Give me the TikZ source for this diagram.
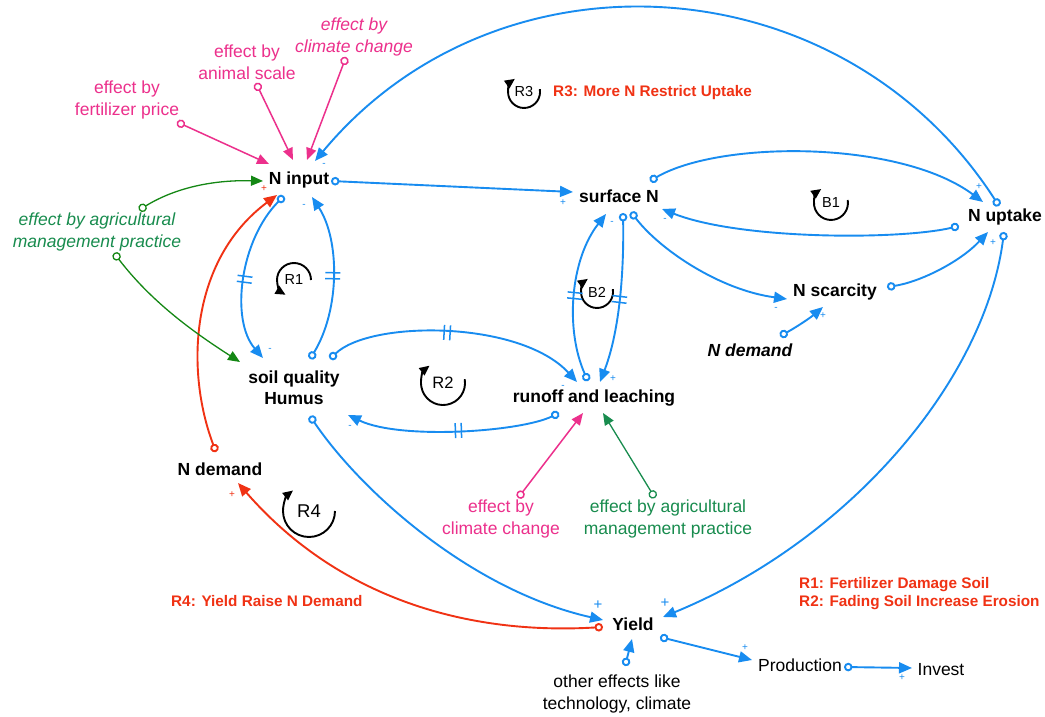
\documentclass[tikz,border=0pt]{standalone}
\usepackage{fontspec}
\setmainfont{Liberation Sans}
\usetikzlibrary{arrows.meta,calc}
\definecolor{cblue}{RGB}{24,140,240}
\definecolor{cpink}{RGB}{236,48,140}
\definecolor{cgreenT}{RGB}{24,140,78}
\definecolor{cgreenL}{RGB}{20,135,20}
\definecolor{cred}{RGB}{240,50,20}
\tikzset{
  var/.style={font=\fontsize{17.5}{21}\selectfont\bfseries, inner sep=0pt, align=center},
  txt/.style={font=\fontsize{17.5}{21.5}\selectfont, inner sep=0pt, align=center},
  itxt/.style={font=\fontsize{17.5}{21.5}\selectfont\itshape, inner sep=0pt, align=center},
  lbl/.style={font=\fontsize{15.3}{18}\selectfont\bfseries, text=cred, inner sep=0pt, align=left, anchor=west},
  sgn/.style={font=\fontsize{10}{10}\selectfont, inner sep=0pt, text=cblue},
  bsgn/.style={font=\fontsize{15}{15}\selectfont, inner sep=0pt, text=cblue},
  lname/.style={font=\fontsize{14.5}{14.5}\selectfont, inner sep=0pt},
  link/.style={line width=1.9pt, draw=cblue, {Circle[length=8.5pt,width=8.5pt,fill=white]}-{Triangle[length=13pt,width=11pt]}},
  rlink/.style={link, draw=cred},
  plink/.style={line width=1.5pt, draw=cpink, {Circle[length=8.5pt,width=8.5pt,fill=white]}-{Triangle[length=12pt,width=10pt]}},
  glink/.style={line width=1.3pt, draw=cgreenL, {Circle[length=8.5pt,width=8.5pt,fill=white]}-{Triangle[length=12pt,width=10pt]}},
  glinkb/.style={glink, draw=cgreenT},
  loopar/.style={line width=1.9pt, draw=black, -{Triangle[length=10pt,width=9pt]}},
  hatchpair/.pic={\draw[arrows=-, draw=cblue, line width=1.5pt] (-3,-7.5)--(-3,7.5) (3,-7.5)--(3,7.5);}
}
\begin{document}
\begin{tikzpicture}[x=1pt,y=-1pt]
\path[use as bounding box, fill=white] (0,0) rectangle (1045,717);

% variables
\node[var] (ninput) at (299,180) {N input};
\node[var] (surfN) at (619,196) {surface N};
\node[var] (nuptake) at (1005,217) {N uptake};
\node[var] (nscar) at (835,292) {N scarcity};
\node[var, font=\fontsize{17.5}{21}\selectfont\bfseries\itshape] (ndemtwo) at (750,350) {N demand};
\node[var] (soil) at (294,388) {soil quality\\Humus};
\node[var] (runoff) at (594,398) {runoff and leaching};
\node[var] (ndem) at (220,469) {N demand};
\node[var] (yield) at (633,624) {Yield};
\node[txt] (prod) at (800,665) {Production};
\node[txt] (invest) at (941,670) {Invest};
\node[txt] (other) at (617,694) {other effects like\\technology, climate};
\node[itxt, text=cpink] (cc1) at (354,37) {effect by\\climate change};
\node[txt, text=cpink] (animal) at (247,62) {effect by\\animal scale};
\node[txt, text=cpink] (fert) at (127,100) {effect by\\fertilizer price};
\node[itxt, text=cgreenT] (agri1) at (97,232) {effect by agricultural\\management practice};
\node[txt, text=cpink] (cc2) at (501,519) {effect by\\climate change};
\node[txt, text=cgreenT] (agri2) at (668,519) {effect by agricultural\\management practice};

% red labels
\node[lbl] (l3) at (553,93) {R3: More N Restrict Uptake};
\node[lbl] (l4) at (171,601) {R4: Yield Raise N Demand};
\node[lbl] (l12) at (799,594) {R1: Fertilizer Damage Soil\\R2: Fading Soil Increase Erosion};

% loop markers
\node[lname] (r1) at (294,280) {R1};
\node[lname, font=\fontsize{16.5}{16.5}\selectfont] (r2) at (443,383) {R2};
\node[lname] (r3) at (524,92) {R3};
\node[lname] (b1) at (831,203) {B1};
\node[lname] (b2) at (597,292) {B2};
\node[lname, font=\fontsize{18.5}{18.5}\selectfont] (r4) at (309,511) {R4};
\draw[loopar] ($(r1)+(17,0)$) arc[start angle=0, end angle=-240, radius=17];
\draw[loopar] ($(r2)+(21.7,-3.8)$) arc[start angle=-10, end angle=232, radius=22];
\draw[loopar] ($(r3)+(15.8,-2.8)$) arc[start angle=-10, end angle=235, radius=16];
\draw[loopar] ($(b1)+(16.7,-3)$) arc[start angle=-10, end angle=235, radius=17];
\draw[loopar] ($(b2)+(15.8,-2.8)$) arc[start angle=-10, end angle=235, radius=16];
\draw[loopar] ($(r4)+(26,0)$) arc[start angle=0, end angle=232, radius=26];

% blue links
\draw[link] ($(ninput)+(32,1)$) -- ($(surfN)+(-46,-4)$);
\draw[link] ($(nuptake)+(-6,-11)$) .. controls (842,-38) and (498,-59) .. ($(ninput)+(16,-19)$);
\draw[link] ($(surfN)+(31,-15)$) .. controls (720,140) and (900,140) .. ($(nuptake)+(-22,-15)$);
\draw[link] ($(nuptake)+(-46,9)$) .. controls (900,240) and (740,240) .. ($(surfN)+(43,13)$);
\draw[link] ($(surfN)+(12,16)$) .. controls (660,250) and (720,290) .. ($(nscar)+(-48,7)$);
\draw[link] ($(nscar)+(52,-5)$) .. controls (920,282) and (960,262) .. ($(nuptake)+(-17,15)$);
\draw[link] ($(ndemtwo)+(30,-14)$) .. controls (795,328) and (810,318) .. ($(nscar)+(-12,15)$);
\draw[link] ($(nuptake)+(-1,15)$) .. controls (985,380) and (850,540) .. ($(yield)+(30,-7)$);
\draw[link] ($(ninput)+(-15,16)$) .. controls (240,240) and (230,320) .. ($(soil)+(-31,-30)$) pic[pos=0.5,sloped]{hatchpair};
\draw[link] ($(soil)+(16,-29)$) .. controls (340,310) and (340,240) .. ($(ninput)+(13,17)$) pic[pos=0.5,sloped]{hatchpair};
\draw[link] ($(soil)+(36,-29)$) .. controls (370,320) and (520,320) .. ($(runoff)+(-17,-16)$) pic[pos=0.5,sloped]{hatchpair};
\draw[link] ($(runoff)+(-35,15)$) .. controls (520,432) and (400,440) .. ($(soil)+(54,27)$) pic[pos=0.5,sloped]{hatchpair};
\draw[link] ($(surfN)+(4,17)$) .. controls (624,270) and (620,330) .. ($(runoff)+(6,-16)$) pic[pos=0.5,sloped]{hatchpair};
\draw[link] ($(runoff)+(-6,-17)$) .. controls (565,330) and (570,260) .. ($(surfN)+(-13,18)$) pic[pos=0.5,sloped]{hatchpair};
\draw[link] ($(soil)+(16,28)$) .. controls (360,490) and (470,590) .. ($(yield)+(-30,-4)$);
\draw[link] ($(yield)+(27,13)$) -- ($(prod)+(-48,-5)$);
\draw[link] ($(prod)+(44,2)$) -- ($(invest)+(-29,-2)$);
\draw[link] ($(other)+(8,-28)$) -- ($(yield)+(-1,15)$);

% red links
\draw[rlink] ($(yield)+(-30,3)$) .. controls (470,635) and (340,600) .. ($(ndem)+(18,14)$);
\draw[rlink] ($(ndem)+(-4,-17)$) .. controls (185,370) and (190,260) .. ($(ninput)+(-22,15)$);

% pink and green links
\draw[plink] ($(fert)+(50,22)$) -- ($(ninput)+(-30,-16)$);
\draw[plink] ($(animal)+(9,21)$) -- ($(ninput)+(-6,-20)$);
\draw[plink] ($(cc1)+(-8,20)$) -- ($(ninput)+(8,-20)$);
\draw[plink] ($(cc2)+(17,-21)$) -- ($(runoff)+(-11,15)$);
\draw[glink] ($(agri1)+(42,-22)$) .. controls (180,185) and (220,180) .. ($(ninput)+(-36,1)$);
\draw[glink] ($(agri1)+(17,21)$) .. controls (150,300) and (190,330) .. ($(soil)+(-54,-26)$);
\draw[glinkb] ($(agri2)+(-13,-21)$) -- ($(runoff)+(9,15)$);

% polarity signs
\node[sgn] (s1) at (563,203) {+};
\node[sgn] (s2) at (324,165) {-};
\node[sgn] (s3) at (979,187) {+};
\node[sgn] (s4) at (665,220) {-};
\node[sgn] (s5) at (776,309) {-};
\node[sgn] (s6) at (993,243) {+};
\node[sgn] (s7) at (823,316) {+};
\node[bsgn] (s8) at (665,603) {+};
\node[sgn] (s9) at (270,350) {-};
\node[sgn] (s10) at (304,206) {-};
\node[sgn] (s11) at (563,387) {-};
\node[sgn] (s12) at (350,427) {-};
\node[sgn] (s13) at (613,379) {+};
\node[sgn] (s14) at (612,223) {-};
\node[bsgn] (s15) at (598,605) {+};
\node[sgn] (s16) at (745,648) {+};
\node[sgn] (s17) at (902,678) {+};
\node[sgn, text=cred] (s18) at (264,189) {+};
\node[sgn, text=cred] (s19) at (232,495) {+};
\end{tikzpicture}
\end{document}
